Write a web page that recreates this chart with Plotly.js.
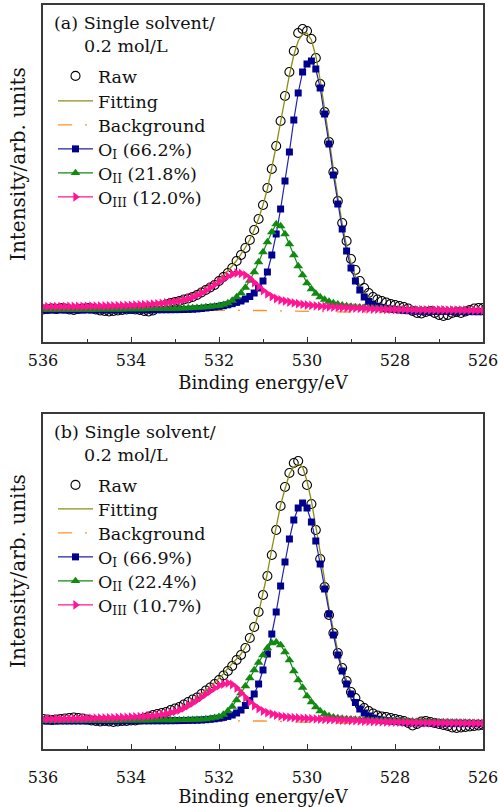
<!DOCTYPE html>
<html>
<head>
<meta charset="utf-8">
<script src="https://cdn.plot.ly/plotly-3.0.1.min.js"></script>
<style>html,body{margin:0;padding:0;background:#fff;}#chart{width:498px;height:807px;}</style>
</head>
<body>
<div id="chart"></div>
<script>
// Binding energy grid (eV)
const energy = [536.0,535.9,535.8,535.7,535.6,535.5,535.4,535.3,535.2,535.1,535.0,534.9,534.8,534.7,534.6,534.5,534.4,534.3,534.2,534.1,534.0,533.9,533.8,533.7,533.6,533.5,533.4,533.3,533.2,533.1,533.0,532.9,532.8,532.7,532.6,532.5,532.4,532.3,532.2,532.1,532.0,531.9,531.8,531.7,531.6,531.5,531.4,531.3,531.2,531.1,531.0,530.9,530.8,530.7,530.6,530.5,530.4,530.3,530.2,530.1,530.0,529.9,529.8,529.7,529.6,529.5,529.4,529.3,529.2,529.1,529.0,528.9,528.8,528.7,528.6,528.5,528.4,528.3,528.2,528.1,528.0,527.9,527.8,527.7,527.6,527.5,527.4,527.3,527.2,527.1,527.0,526.9,526.8,526.7,526.6,526.5,526.4,526.3,526.2,526.1,526.0];

// Panel (a)
const rawA = [0.5,1.0,1.5,1.0,2.0,1.5,0.5,0,1.0,1.5,2.0,1.5,0.5,-0.5,-1,-1.5,-1,-0.5,0,0.5,1.0,0.5,0,-1,-1.5,-0.5,2.5,4.0,5.5,7.0,8.0,9.0,10.5,11.5,13,15,17.5,20,22.5,25,29,33,37,42,49,55,62,70,80,91,105,122,141,164,189,214,238,259,277,281,279,271,252,226,198,168,138,109,87,69,51,40,29,22,17,13,10.5,9,7.5,6,5,4,3,1.5,-1,-3,-3.5,-2,-1,-3,-5,-6,-5,-3,-2,-3,-1.5,0,1.5,2,2];
const fitA = [3.65,3.65,3.65,3.8,3.81,3.81,3.96,3.97,4.07,4.13,4.23,4.39,4.39,4.55,4.7,4.81,4.97,5.13,5.29,5.45,5.71,5.97,6.23,6.49,6.85,7.22,7.64,8.16,8.74,9.47,10.26,10.5,11.8,13.0,14.5,16.3,18.5,21,23.8,27,30.5,34.5,39,44,49.5,55.5,62.5,70.5,80,91.5,105,121,141,164,188,212,235,255,269,276,277,270,254,230,202,172,141,112,86,64,47,34,24.5,17.5,12.5,9,6.5,4.8,3.5,2.5,1.7,1.0,0.5,0,-0.4,-0.7,-1.0,-1.2,-1.4,-1.5,-1.6,-1.7,-1.8,-1.8,-1.9,-1.9,-2.0,-2.0,-2.0,-2.0,-2.0];
const o1A = [0.05,0.05,0.05,0.05,0.06,0.06,0.06,0.07,0.07,0.08,0.08,0.09,0.09,0.1,0.1,0.11,0.12,0.13,0.14,0.15,0.16,0.17,0.18,0.19,0.2,0.22,0.24,0.26,0.29,0.32,0.36,0.42,0.5,0.62,0.8,1.1,1.5,2.0,2.5,3.0,3.6,4.3,5.2,6.3,7.6,9,11,13.5,17,22,29,38,55,76,101,129,158,190,217,238,246,249,241,222,196,166,135,106,81,59,42,29,20,13,8.5,5.5,3.5,2.5,1.6,1.0,0.4,0,-0.4,-0.7,-0.9,-1.1,-1.2,-1.3,-1.3,-1.4,-1.4,-1.5,-1.5,-1.5,-1.6,-1.6,-1.6,-1.6,-1.7,-1.7,-1.7];
const o2A = [0.3,0.3,0.3,0.35,0.35,0.35,0.4,0.4,0.4,0.45,0.45,0.5,0.5,0.55,0.6,0.6,0.65,0.7,0.75,0.8,0.85,0.9,0.95,1.0,1.05,1.1,1.2,1.3,1.35,1.45,1.5,1.6,1.7,1.9,2.1,2.3,2.6,2.9,3.3,3.8,4.4,5.3,7,9.5,13,17,22.5,29.5,38,48,58,68,78,86,84,76,66,55,44,35,27,21,16.5,13,10.5,8.5,7,5.8,4.8,4.1,3.5,3.1,2.7,2.4,2.1,1.8,1.6,1.4,1.2,1.0,0.8,0.7,0.6,0.5,0.4,0.3,0.2,0.1,0,0,-0.1,-0.1,-0.2,-0.2,-0.2,-0.3,-0.3,-0.3,-0.3,-0.4,-0.4];
const o3A = [3.3,3.3,3.3,3.4,3.4,3.4,3.5,3.5,3.6,3.6,3.7,3.8,3.8,3.9,4.0,4.1,4.2,4.3,4.4,4.5,4.7,4.9,5.1,5.3,5.6,5.9,6.2,6.6,7.1,7.7,8.4,9.2,10.2,11.5,13,14.8,17,19.5,22.3,25.3,28.3,31.2,33.8,35.8,37,36.6,34.8,31.5,27.5,23.4,19.5,16.2,13.5,11.5,10,8.9,8,7.1,6.3,5.6,5.0,4.6,4.2,3.8,3.5,3.2,2.9,2.6,2.4,2.2,2.0,1.8,1.6,1.4,1.2,1.0,0.9,0.8,0.7,0.6,0.5,0.4,0.4,0.3,0.3,0.2,0.2,0.1,0.1,0,0,0,-0.1,-0.1,-0.1,-0.2,-0.2,-0.2,-0.3,-0.3,-0.3];

// Panel (b)
const rawB = [2,1.5,1,1.5,2,2.5,3,3.5,3,2.5,1.5,0.5,0,-0.5,0,-0.5,-1,-0.5,0,0,0.5,0.5,1.5,3,4.5,6,7,8,9,11,12.5,14,16.5,19,21.5,23.5,27,30.5,33.5,37,41,45.5,50,55,61,66,73,83,94,109,126,145,166,191,215,234,248,258,260,250,236,217,191,162,134,106,88,68,53,40,29,23,16,13,10,7.5,5.5,4.5,4,3,2,1,0,-2,-4.5,-3,-0.5,0,-1,-2,-3,-4,-5,-6.5,-7,-6.5,-6,-5.5,-5,-4.5,-4];
const fitB = [2.05,2.15,2.15,2.25,2.31,2.41,2.51,2.67,2.77,2.88,3.03,3.14,3.29,3.4,3.55,3.66,3.82,4.03,4.19,4.45,4.66,4.92,5.18,5.39,5.75,6.22,6.84,7.61,8.49,9.57,10.86,12.47,14.6,17.3,20,23.2,26.6,30.3,34.3,38.5,42.6,47.1,52.6,57,62,67,74,82.5,93.5,108,127,148,172,194,216,232,247,254,257,254,240,220,196,169,141,113,91,70,53,40,29,20,13.5,9,6,4,2.5,1.5,0.7,0,-0.5,-0.9,-1.2,-1.5,-1.7,-1.9,-2.0,-2.1,-2.2,-2.2,-2.3,-2.3,-2.4,-2.4,-2.4,-2.5,-2.5,-2.5,-2.5,-2.5,-2.5];
const o1B = [0.05,0.05,0.05,0.05,0.06,0.06,0.06,0.07,0.07,0.08,0.08,0.09,0.09,0.1,0.1,0.11,0.12,0.13,0.14,0.15,0.16,0.17,0.18,0.19,0.2,0.22,0.24,0.26,0.29,0.32,0.36,0.42,0.5,0.6,0.7,0.8,1.0,1.3,1.7,2.2,2.8,3.6,4.6,6,8,11,15.5,20.5,27,37,51,67,87,109,135,159,182,201,213,218,213,199,180,157,132,107,86,66,50,37,27,18.5,12,8,5,3,1.8,1.0,0.4,0,-0.4,-0.8,-1.1,-1.4,-1.6,-1.8,-1.9,-2.0,-2.1,-2.1,-2.2,-2.2,-2.3,-2.3,-2.3,-2.4,-2.4,-2.4,-2.5,-2.5,-2.5];
const o2B = [0.2,0.2,0.2,0.2,0.25,0.25,0.25,0.3,0.3,0.3,0.35,0.35,0.4,0.4,0.45,0.45,0.5,0.5,0.55,0.6,0.6,0.65,0.7,0.7,0.75,0.8,0.8,0.85,0.9,0.95,1.0,1.05,1.1,1.2,1.3,1.4,1.6,2.0,2.6,3.3,4.3,6.5,10,14.5,21,28,35,43,51,58.5,66,73,78,79,76,69,61,50,41,33.5,25,19,14,10,7,5,3.8,3,2.4,2,1.7,1.4,1.2,1.0,0.8,0.6,0.5,0.4,0.3,0.2,0.1,0,-0.1,-0.2,-0.3,-0.4,-0.5,-0.6,-0.7,-0.8,-0.9,-1.0,-1.1,-1.2,-1.3,-1.4,-1.5,-1.6,-1.7,-1.8,-1.9];
const o3B = [1.8,1.9,1.9,2.0,2.0,2.1,2.2,2.3,2.4,2.5,2.6,2.7,2.8,2.9,3.0,3.1,3.2,3.4,3.5,3.7,3.9,4.1,4.3,4.5,4.8,5.2,5.8,6.5,7.3,8.3,9.5,11,13,15.5,18,21,24,27,30,33,35.5,37,38,36.5,33,28,23.5,19,15.5,12.5,10,8.3,7,5.8,4.8,4.2,3.7,3.3,3.0,2.7,2.5,2.3,2.1,1.9,1.7,1.5,1.3,1.1,0.9,0.7,0.5,0.3,0.1,-0.1,-0.3,-0.5,-0.6,-0.8,-0.9,-1.0,-1.1,-1.2,-1.3,-1.4,-1.5,-1.6,-1.7,-1.8,-1.8,-1.9,-1.9,-2.0,-2.0,-2.1,-2.1,-2.2,-2.2,-2.3,-2.3,-2.4,-2.4];

// Background lines
const bgEnergy = [536, 532, 531.5, 531, 530.5, 530, 529.5, 529, 526];
const bgA = [0, 0, -0.2, -0.5, -1.0, -1.5, -1.9, -2.0, -2.0];
const bgB = [0.5, 0.5, 0.3, 0, -0.6, -1.3, -2.0, -2.4, -2.5];

const names = {
  a: ['Raw','Fitting','Background','O<sub>I</sub> (66.2%)','O<sub>II</sub> (21.8%)','O<sub>III</sub> (12.0%)'],
  b: ['Raw','Fitting','Background','O<sub>I</sub> (66.9%)','O<sub>II</sub> (22.4%)','O<sub>III</sub> (10.7%)']
};
const panelLabels = ['(a) Single solvent/', '(b) Single solvent/'];
const concLabel = '0.2 mol/L';
const yTitle = 'Intensity/arb. units';
const xTitle = 'Binding energy/eV';
const xTicks = [536, 534, 532, 530, 528, 526];

const SERIF = 'DejaVu Serif, serif';
const TXT = '#111';
const C = {raw:'#000000', fit:'#8c8c14', bg:'#ff9326', o1line:'#2020b0', o1:'#00008e', o2:'#118a11', o3:'#ff1493'};

const W = 498, H = 807;
// legend row centres (px from top) for each panel
const rowsA = [76, 101, 125, 149, 173, 197];
const rowsB = [485, 509, 533, 557, 581, 605];

function panelTraces(raw, fit, bg, o1, o2, o3, nm, xa, ya, legs) {
  return [
    {x: energy, y: raw, mode:'markers', name:nm[0], xaxis:xa, yaxis:ya, legend:legs[0],
     marker:{symbol:'circle-open', size:9, color:C.raw, line:{width:1.1, color:C.raw}}},
    {x: energy, y: fit, mode:'lines', name:nm[1], xaxis:xa, yaxis:ya, legend:legs[1],
     line:{color:C.fit, width:1.3}},
    {x: bgEnergy, y: bg, mode:'lines', name:nm[2], xaxis:xa, yaxis:ya, legend:legs[2],
     line:{color:C.bg, width:1.3, dash:'14px,13px,2px,13px'}},
    {x: energy, y: o1, mode:'lines+markers', name:nm[3], xaxis:xa, yaxis:ya, legend:legs[3],
     line:{color:C.o1line, width:1.2}, marker:{symbol:'square', size:7, color:C.o1}},
    {x: energy, y: o2, mode:'lines+markers', name:nm[4], xaxis:xa, yaxis:ya, legend:legs[4],
     line:{color:C.o2, width:1.2}, marker:{symbol:'triangle-up', size:8.5, color:C.o2}},
    {x: energy, y: o3, mode:'lines+markers', name:nm[5], xaxis:xa, yaxis:ya, legend:legs[5],
     line:{color:C.o3, width:1.2}, marker:{symbol:'triangle-right', size:8.5, color:C.o3}}
  ];
}

const legIdsA = ['legend','legend2','legend3','legend4','legend5','legend6'];
const legIdsB = ['legend7','legend8','legend9','legend10','legend11','legend12'];

const data = [].concat(
  panelTraces(rawA, fitA, bgA, o1A, o2A, o3A, names.a, 'x', 'y', legIdsA),
  panelTraces(rawB, fitB, bgB, o1B, o2B, o3B, names.b, 'x2', 'y2', legIdsB)
);

const xd = [43/W, 483/W];
const ydA = [1 - 342/H, 1 - 5/H];
const ydB = [1 - 749/H, 1 - 414/H];

function xAxis(anchor, labelPad, titlePad) {
  return {
    domain: xd, anchor: anchor, range: [536, 526], tickvals: xTicks,
    ticks: 'inside', ticklen: 5, tickwidth: 1, tickcolor: '#333',
    minor: {dtick: 1, tick0: 526, ticks: 'inside', ticklen: 3, tickwidth: 1, tickcolor: '#333'},
    showline: true, mirror: true, linecolor: '#3a3a3a', linewidth: 1.6,
    showgrid: false, zeroline: false, ticklabeloverflow: 'allow', ticklabelstandoff: labelPad,
    tickfont: {family: SERIF, size: 16, color: TXT},
    title: {text: xTitle, font: {family: SERIF, size: 18, color: TXT}, standoff: titlePad}
  };
}
function yAxis(anchor, dom, rng) {
  return {
    domain: dom, anchor: anchor, range: rng, showticklabels: false, ticks: '',
    showline: true, mirror: true, linecolor: '#3a3a3a', linewidth: 1.6,
    showgrid: false, zeroline: false
  };
}
function legendAt(centerPx) {
  return {x: 53/W, xanchor: 'left', y: 1 - centerPx/H, yanchor: 'middle',
    bgcolor: 'rgba(0,0,0,0)', borderwidth: 0, font: {family: SERIF, size: 17.5, color: TXT},
    itemwidth: 35};
}
function textAnn(text, xPx, yPx, size, angle) {
  return {text: text, xref:'paper', yref:'paper', x: xPx/W, y: 1 - yPx/H,
    xanchor: angle ? 'center' : 'left', yanchor:'middle', showarrow:false, textangle: angle || 0,
    font:{family:SERIF, size:size, color:TXT}};
}

const layout = {
  width: W, height: H, margin: {l: 0, r: 0, t: 0, b: 0},
  paper_bgcolor: '#fff', plot_bgcolor: '#fff', showlegend: true,
  xaxis: xAxis('y', 3, 7), yaxis: yAxis('x', ydA, [-32, 305]),
  xaxis2: xAxis('y2', 13, 7), yaxis2: yAxis('x2', ydB, [-28, 307]),
  annotations: [
    textAnn(panelLabels[0], 52, 23, 17.5),
    textAnn(concLabel, 82, 46, 17.5),
    textAnn(panelLabels[1], 52, 432, 17.5),
    textAnn(concLabel, 82, 455, 17.5),
    textAnn(yTitle, 18, 164, 20, -90),
    textAnn(yTitle, 18, 571, 20, -90)
  ]
};
legIdsA.forEach((id, i) => { layout[id] = legendAt(rowsA[i]); });
legIdsB.forEach((id, i) => { layout[id] = legendAt(rowsB[i]); });

Plotly.newPlot('chart', data, layout, {staticPlot: true, displayModeBar: false});
</script>
</body>
</html>
